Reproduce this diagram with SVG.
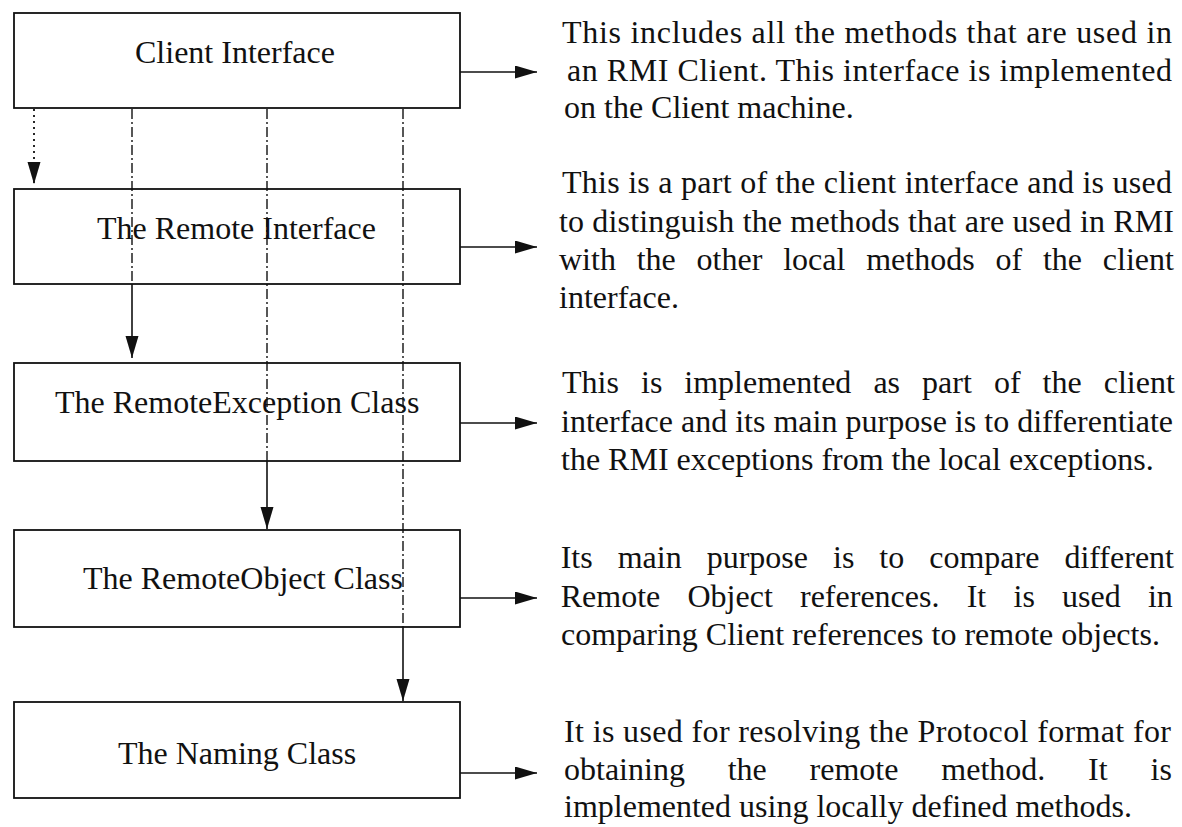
<svg xmlns="http://www.w3.org/2000/svg" width="1182" height="827" viewBox="0 0 1182 827">
<style>
.box{fill:#fff;stroke:#111;stroke-width:1.8}
.lbl{font-family:"Liberation Serif","Times New Roman",serif;font-size:32px;fill:#111}
.txt{font-family:"Liberation Serif","Times New Roman",serif;font-size:32px;fill:#111}
.solid{fill:none;stroke:#111;stroke-width:1.6}
.dashdot{fill:none;stroke:#111;stroke-width:1.4;stroke-dasharray:10 3 2 3}
.dotted{fill:none;stroke:#111;stroke-width:1.8;stroke-dasharray:2 4}
</style>
<defs>
<marker id="ah" markerUnits="userSpaceOnUse" markerWidth="23" markerHeight="14" refX="22" refY="6.5" orient="auto">
<path d="M0,0 L22,6.5 L0,13 z" fill="#111"/>
</marker>
</defs>
<rect width="1182" height="827" fill="#fff"/>

<g id="node-client-interface">
<rect class="box" x="14" y="13" width="446" height="95"/>
<text class="lbl" x="135" y="63">Client Interface</text>
</g>
<g id="node-remote-interface">
<rect class="box" x="14" y="189" width="446" height="95"/>
<text class="lbl" x="97" y="239">The Remote Interface</text>
</g>
<g id="node-remote-exception">
<rect class="box" x="14" y="363" width="446" height="98"/>
<text class="lbl" x="55" y="413">The RemoteException Class</text>
</g>
<g id="node-remote-object">
<rect class="box" x="14" y="530" width="446" height="97"/>
<text class="lbl" x="83" y="589">The RemoteObject Class</text>
</g>
<g id="node-naming">
<rect class="box" x="14" y="702" width="446" height="96"/>
<text class="lbl" x="118" y="764">The Naming Class</text>
</g>

<g id="connectors">
<line class="dotted" x1="34" y1="109" x2="34" y2="184" marker-end="url(#ah)"/>
<line class="dashdot" x1="132" y1="109" x2="132" y2="284"/>
<line class="dashdot" x1="267" y1="109" x2="267" y2="461"/>
<line class="dashdot" x1="403" y1="109" x2="403" y2="627"/>
<line class="solid" x1="132" y1="284" x2="132" y2="358" marker-end="url(#ah)"/>
<line class="solid" x1="267" y1="461" x2="267" y2="529" marker-end="url(#ah)"/>
<line class="solid" x1="403" y1="627" x2="403" y2="701" marker-end="url(#ah)"/>
<line class="solid" x1="460" y1="72" x2="537" y2="72" marker-end="url(#ah)"/>
<line class="solid" x1="460" y1="247" x2="537" y2="247" marker-end="url(#ah)"/>
<line class="solid" x1="460" y1="423" x2="537" y2="423" marker-end="url(#ah)"/>
<line class="solid" x1="460" y1="598" x2="537" y2="598" marker-end="url(#ah)"/>
<line class="solid" x1="460" y1="773" x2="537" y2="773" marker-end="url(#ah)"/>
</g>

<g id="desc-client-interface">
<text class="txt" x="562" y="43" textLength="610" lengthAdjust="spacing">This includes all the methods that are used in</text>
<text class="txt" x="567" y="81" textLength="605" lengthAdjust="spacing">an RMI Client. This interface is implemented</text>
<text class="txt" x="564" y="118">on the Client machine.</text>
</g>
<g id="desc-remote-interface">
<text class="txt" x="562" y="193" textLength="610" lengthAdjust="spacing">This is a part of the client interface and is used</text>
<text class="txt" x="559" y="232" textLength="615" lengthAdjust="spacing">to distinguish the methods that are used in RMI</text>
<text class="txt" y="270"><tspan x="559">with</tspan><tspan x="636.7">the</tspan><tspan x="696.6">other</tspan><tspan x="783.2">local</tspan><tspan x="866.2">methods</tspan><tspan x="995.4">of</tspan><tspan x="1042.9">the</tspan><tspan x="1102.8">client</tspan></text>
<text class="txt" x="559" y="308">interface.</text>
</g>
<g id="desc-remote-exception">
<text class="txt" y="393"><tspan x="562">This</tspan><tspan x="641">is</tspan><tspan x="684.3">implemented</tspan><tspan x="873.4">as</tspan><tspan x="922.1">part</tspan><tspan x="993.9">of</tspan><tspan x="1042.6">the</tspan><tspan x="1103.7">client</tspan></text>
<text class="txt" x="561" y="432" textLength="612" lengthAdjust="spacing">interface and its main purpose is to differentiate</text>
<text class="txt" x="561" y="470">the RMI exceptions from the local exceptions.</text>
</g>
<g id="desc-remote-object">
<text class="txt" y="568"><tspan x="560.7">Its</tspan><tspan x="617.7">main</tspan><tspan x="706.7">purpose</tspan><tspan x="833">is</tspan><tspan x="879.3">to</tspan><tspan x="929.2">compare</tspan><tspan x="1064.4">different</tspan></text>
<text class="txt" y="607"><tspan x="560.7">Remote</tspan><tspan x="687.5">Object</tspan><tspan x="800">references.</tspan><tspan x="966.7">It</tspan><tspan x="1013.5">is</tspan><tspan x="1062">used</tspan><tspan x="1147.9">in</tspan></text>
<text class="txt" x="561" y="645">comparing Client references to remote objects.</text>
</g>
<g id="desc-naming">
<text class="txt" x="564" y="742" textLength="607" lengthAdjust="spacing">It is used for resolving the Protocol format for</text>
<text class="txt" y="780"><tspan x="564">obtaining</tspan><tspan x="727.7">the</tspan><tspan x="809.6">remote</tspan><tspan x="941.3">method.</tspan><tspan x="1088.1">It</tspan><tspan x="1150.5">is</tspan></text>
<text class="txt" x="564" y="817">implemented using locally defined methods.</text>
</g>
</svg>
